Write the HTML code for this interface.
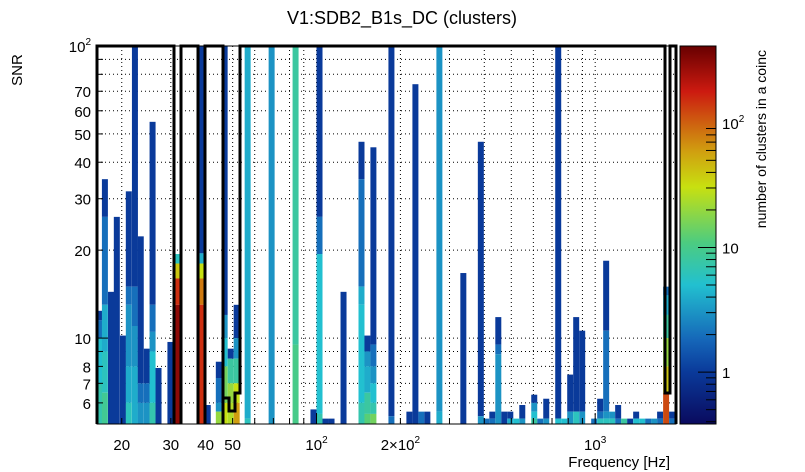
<!DOCTYPE html>
<html><head><meta charset="utf-8">
<style>
html,body{margin:0;padding:0;background:#fff;}
svg{display:block;font-family:"Liberation Sans",Arial,sans-serif;}
</style></head>
<body>
<svg id="chart" width="805" height="472" viewBox="0 0 805 472" xmlns="http://www.w3.org/2000/svg">
<text x="402" y="24" font-size="18" text-anchor="middle">V1:SDB2_B1s_DC (clusters)</text>
<text transform="translate(22,70) rotate(-90)" font-size="15" text-anchor="middle">SNR</text>
<text x="670" y="467" font-size="15" text-anchor="end">Frequency [Hz]</text>
<text transform="translate(766,50) rotate(-90)" font-size="14" text-anchor="end">number of clusters in a coinc</text>
<defs>
<linearGradient id="cbar" x1="0" y1="1" x2="0" y2="0">
<stop offset="0" stop-color="#0a0a5e"/><stop offset="0.138" stop-color="#0a3a9a"/><stop offset="0.22" stop-color="#1565b8"/><stop offset="0.368" stop-color="#22c0d0"/><stop offset="0.48" stop-color="#4ccc80"/><stop offset="0.627" stop-color="#c8e010"/><stop offset="0.72" stop-color="#d0a010"/><stop offset="0.88" stop-color="#cc1a10"/><stop offset="1" stop-color="#680000"/>
</linearGradient>
</defs>
<g id="grid"></g>
<g id="cells"></g>
<path fill="none" stroke="#000" stroke-width="3" d="M97,424 V46 H174 V424 M181,424 V46 H198 V424 M205,424 V46 H223 V424 M223,46 V398 H229 V411 H235 V393 H240 V46 H665 V393 H670 V46 H676 V424"/>
<rect x="97" y="46" width="579" height="378" fill="none" stroke="#000" stroke-width="1"/>
<g id="axes"></g>
<rect x="680" y="46" width="36" height="378" fill="url(#cbar)" stroke="#000" stroke-width="1"/>
<g id="cbaxis"></g>
</svg>
<script>
// ---- data ----
const colFreqs = [16.6,17.4,18.3,19.2,20.2,21.2,22.3,23.4,24.6,25.8,27.1,29.9,31.9,38.7,40.7,44.6,46.8,49.2,51.7,56.6,69.0,84.1,97.5,102.5,107.7,113.2,125,145,152.3,160,185.7,215.4,226.4,237.8,249.9,276,336.4,388.7,406.8,427.4,449.1,471.9,495.9,521,547.5,604.4,635,667.4,736.8,774.2,813.5,854.8,898.3,991.8,1042,1095,1150,1209,1270,1335,1403,1474,1549,1627,1710,1797,1888];
// each column: list of [snrTop, count] segments, top-down
const colSegments = [
[[12.4,1],[11.5,2],[10,5],[7,7]],
[[35,1],[26,2],[13,4],[9,6],[6.5,9]],
[[14.4,1]],
[[26,1]],
[[10.2,1]],
[[31.8,1],[15,2],[13,3],[8,4],[6,6]],
[[100,1],[15,2],[11,3],[8,4]],
[[22.3,1],[7,2],[6,3]],
[[9.2,1],[7,2],[6,3]],
[[55,1],[13,2],[10.5,3],[9,5],[6,7]],
[[7.9,1]],
[[9.7,1]],
[[19.4,6],[18,40],[16,150],[13,300]],
[[100,1],[19.5,4],[18,30],[16,80],[13,150]],
[[5.9,1]],
[[8.3,1],[7.3,2],[6,3],[5.6,20]],
[[100,1],[12,3],[10,5],[8,15],[6,30]],
[[9.2,1],[8.5,8],[7,20],[6,25]],
[[13,1],[10,3],[8.5,8],[7,30],[6,60]],
[[100,4],[5.3,6]],
[[100,3]],
[[100,8],[9.5,10]],
[[5.7,1]],
[[100,1],[26,2],[19.4,5],[5.5,7]],
[[5.3,1]],
[[5.3,1]],
[[14.4,1]],
[[47,1],[35,2],[15,4],[13,5],[6,7]],
[[10.2,1],[9,3],[8,4],[6.5,8],[5.5,12]],
[[45,1],[9.5,2],[8,3],[7,5],[6,7],[5.5,15]],
[[100,1],[5.4,2]],
[[5.6,1]],
[[74,1]],
[[5.6,2]],
[[5.6,1]],
[[100,3],[5.6,4]],
[[16.7,1]],
[[47,1],[5.4,3]],
[[5.3,2]],
[[5.6,1],[5.3,2]],
[[11.8,1],[9.5,2],[8.8,3]],
[[5.6,1]],
[[5.6,1],[5.3,4]],
[[5.3,5]],
[[5.9,1],[5.3,3]],
[[6.4,1],[6.0,3],[5.6,5],[5.3,8]],
[[5.3,2]],
[[6.2,1],[5.3,3]],
[[100,1],[5.3,5]],
[[5.3,5]],
[[7.5,1],[5.6,3]],
[[11.8,1],[5.6,6]],
[[10.6,1],[5.6,3]],
[[5.3,2]],
[[6.2,1],[5.6,2],[5.3,6]],
[[18.4,1],[10.6,2],[5.6,3],[5.3,6]],
[[5.6,3],[5.3,6]],
[[5.9,1],[5.3,2]],
[[5.3,8]],
[[5.3,1]],
[[5.6,1],[5.3,5]],
[[5.3,5]],
[[5.3,2]],
[[5.3,3]],
[[5.6,1],[5.3,2]],
[[15,2],[14,4],[12,8],[10,20],[8,40],[6.5,120]],
[[5.6,1],[5.3,2]]
];
const xGridVals = [20,30,40,50,60,70,80,90,100,200,300,400,500,600,700,800,900,1000];
const xLabelVals = [20,30,40,50,100,200,1000];
const xLabelText = ["20","30","40","50","10^2","2×10^2","10^3"];
const yGridVals = [6,7,8,9,10,20,30,40,50,60,70,80,90];
const yLabelVals = [6,7,8,10,20,30,40,50,60,70,100];
const yLabelText = ["6","7","8","10","20","30","40","50","60","70","10^2"];
const cbLabelVals = [1,10,100];
const cbLabelText = ["1","10","10^2"];

// ---- scales ----
const X0=97,X1=676,Y0=424,Y1=46;
const xl=Math.log10(16.3), xh=Math.log10(1950);
const yl=Math.log10(5.08), yh=2;
const xS=f=>X0+(Math.log10(f)-xl)/(xh-xl)*(X1-X0);
const yS=s=>Y0-(Math.log10(s)-yl)/(yh-yl)*(Y0-Y1);
const cl=-0.416, ch=2.616;
const cS=c=>Y0-(Math.log10(c)-cl)/(ch-cl)*(Y0-Y1);
const stops=[[0,[10,10,94]],[0.138,[10,58,154]],[0.22,[21,101,184]],[0.368,[34,192,208]],[0.48,[76,204,128]],[0.627,[200,224,16]],[0.72,[208,160,16]],[0.88,[204,26,16]],[1,[104,0,0]]];
function cmap(c){
  let t=(Math.log10(c)-cl)/(ch-cl); t=Math.max(0,Math.min(1,t));
  for(let i=1;i<stops.length;i++){ if(t<=stops[i][0]){ const a=stops[i-1],b=stops[i],u=(t-a[0])/(b[0]-a[0]);
    return 'rgb('+a[1].map((v,k)=>Math.round(v+(b[1][k]-v)*u)).join(',')+')'; } }
  return 'rgb(104,0,0)';
}
const NS='http://www.w3.org/2000/svg';
function mk(tag,attrs,parent){const e=document.createElementNS(NS,tag);for(const k in attrs)e.setAttribute(k,attrs[k]);parent.appendChild(e);return e;}
function label(parent,x,y,txt,anchor){
  const t=mk('text',{x:x,y:y,'font-size':15,'text-anchor':anchor},parent);
  const p=txt.split('^');
  t.appendChild(document.createTextNode(p[0]));
  if(p[1]){const s=mk('tspan',{'font-size':10,dy:-7},t);s.textContent=p[1];}
  return t;
}

// grid
const grid=document.getElementById('grid');
xGridVals.forEach(v=>{const l=mk('line',{x1:xS(v),x2:xS(v),y1:Y1,y2:Y0,stroke:'#000','stroke-width':1,'stroke-dasharray':'1,3'},grid);

});
yGridVals.forEach(v=>{const l=mk('line',{x1:X0,x2:X1,y1:yS(v),y2:yS(v),stroke:'#000','stroke-width':1,'stroke-dasharray':'1,3'},grid);

});

// cells
const cells=document.getElementById('cells');
const bw=(X1-X0)*0.0215/(xh-xl);
colFreqs.forEach((f,i)=>{
  const segs=colSegments[i]; const xc=xS(f);
  segs.forEach((s,j)=>{
    const top=yS(s[0]); const bot=j+1<segs.length?yS(segs[j+1][0]):Y0;
    const r=mk('rect',{x:xc-bw/2,y:top,width:bw,height:Math.max(0,bot-top),fill:cmap(s[1])},cells);
    
    
  });
});

// axes ticks & labels
const axes=document.getElementById('axes');
xGridVals.forEach(v=>{const big=(v===100||v===1000);mk('line',{x1:xS(v),x2:xS(v),y1:Y0,y2:Y0-(big?11:6),stroke:'#000'},axes);});
yGridVals.concat([100]).forEach(v=>{const big=(v===10||v===100);mk('line',{x1:X0,x2:X0+(big?11:6),y1:yS(v),y2:yS(v),stroke:'#000'},axes);});
xLabelVals.forEach((v,i)=>{const t=label(axes,xS(v),450,xLabelText[i],'middle');

});
yLabelVals.forEach((v,i)=>{const t=label(axes,91,yS(v)+6,yLabelText[i],'end');

});

// colorbar axis
const cb=document.getElementById('cbaxis');
for(let d=0;d<3;d++)for(let m=1;m<10;m++){const c=m*Math.pow(10,d-1);const y=cS(c);if(y<Y1||y>Y0)continue;
  mk('line',{x1:716,x2:716-(m===1?18:10),y1:y,y2:y,stroke:'#000'},cb);}
cbLabelVals.forEach((v,i)=>{const t=label(cb,722,cS(v)+6,cbLabelText[i],'start');

});
</script>
</body></html>
